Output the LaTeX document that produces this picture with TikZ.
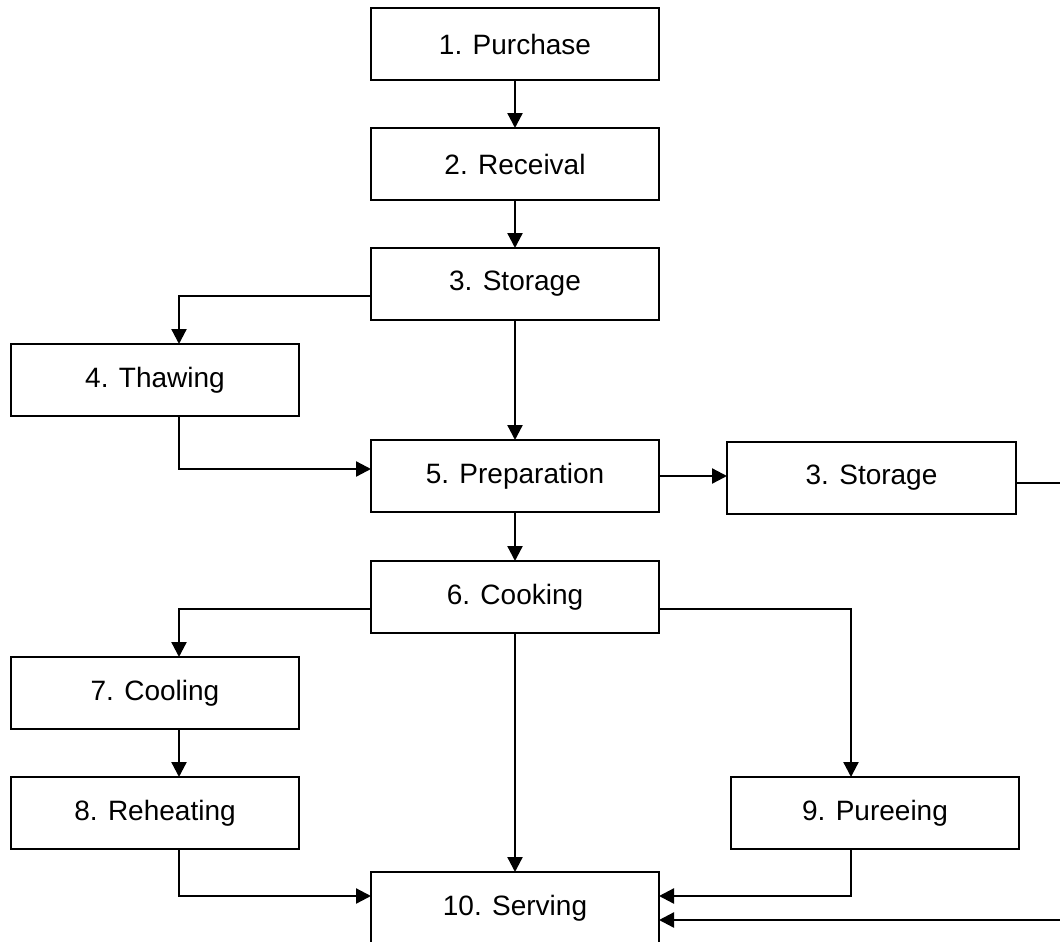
\documentclass[tikz,border=0pt]{standalone}
\usepackage{fontspec}
\setmainfont{Liberation Sans}
\usetikzlibrary{arrows.meta,calc}
\begin{document}
\begin{tikzpicture}[x=1pt,y=-1pt,
  box/.style={draw, line width=1.9pt, rectangle, inner sep=0pt, outer sep=0pt,
    minimum width=288pt, minimum height=72pt, font=\fontsize{28}{34}\selectfont},
  conn/.style={line width=2.3pt, -{Triangle[length=15pt,width=15pt]}},
  plain/.style={line width=2.3pt}]
\useasboundingbox (0,0) rectangle (1060,942);
\clip (0,0) rectangle (1060,942);
\fill[white] (0,0) rectangle (1060,942);
\node[box] (n1) at (515,44) {1. Purchase};
\node[box] (n2) at (515,164) {2. Receival};
\node[box] (n3) at (515,284) {3. Storage};
\node[box] (n4) at (155,380) {4. Thawing};
\node[box] (n5) at (515,476) {5. Preparation};
\node[box, minimum width=289pt] (s3b) at (871.5,478) {3. Storage};
\node[box] (n6) at (515,597) {6. Cooking};
\node[box] (n7) at (155,693) {7. Cooling};
\node[box] (n8) at (155,813) {8. Reheating};
\node[box] (n9) at (875,813) {9. Pureeing};
\node[box] (n10) at (515,908) {10. Serving};
\coordinate (r1) at (1070,483);
\coordinate (r2) at (1070,920);
\draw[conn] (n1.south) -- (n2.north);
\draw[conn] (n2.south) -- (n3.north);
\draw[conn] ($(n3.west)+(0,12)$) -| ($(n4.north)+(24,0)$);
\draw[conn] (n3.south) -- (n5.north);
\draw[conn] ($(n4.south)+(24,0)$) |- ($(n5.west)+(0,-7)$);
\draw[conn] (n5.east) -- (n5.east -| s3b.west);
\draw[plain] ($(s3b.east)+(0,5)$) -- (r1);
\draw[conn] (n5.south) -- (n6.north);
\draw[conn] ($(n6.west)+(0,12)$) -| ($(n7.north)+(24,0)$);
\draw[conn] ($(n6.east)+(0,12)$) -| ($(n9.north)+(-24,0)$);
\draw[conn] (n6.south) -- (n10.north);
\draw[conn] ($(n7.south)+(24,0)$) -- ($(n8.north)+(24,0)$);
\draw[conn] ($(n8.south)+(24,0)$) |- ($(n10.west)+(0,-12)$);
\draw[conn] ($(n9.south)+(-24,0)$) |- ($(n10.east)+(0,-12)$);
\draw[conn] (r2) -- ($(n10.east)+(0,12)$);
\end{tikzpicture}
\end{document}
